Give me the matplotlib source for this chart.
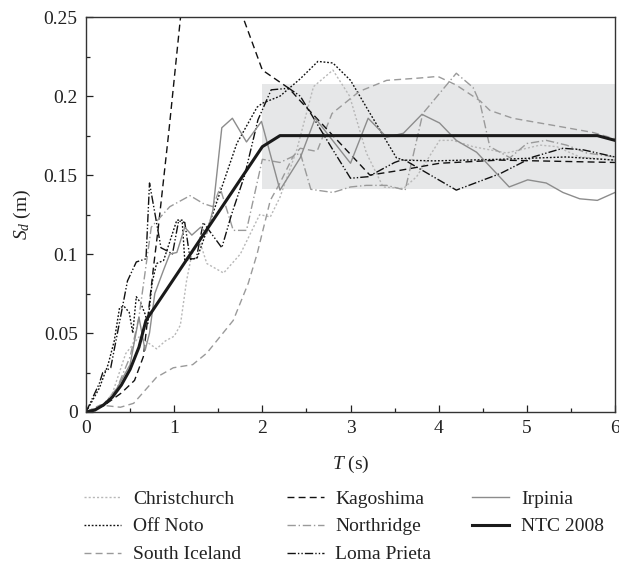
import matplotlib.pyplot as plt
from matplotlib.ticker import MultipleLocator, FuncFormatter

plt.rcParams['font.family'] = ['Liberation Serif', 'DejaVu Serif']
plt.rcParams['mathtext.fontset'] = 'custom'
plt.rcParams['mathtext.it'] = 'Liberation Serif:italic'
plt.rcParams['mathtext.rm'] = 'Liberation Serif'

# Spectral displacement records (T in s, Sd in m)
christchurch_T = [0, 0.2, 0.3, 0.45, 0.6, 0.7, 0.8, 0.9, 1.0, 1.07, 1.14, 1.2, 1.29, 1.37, 1.56, 1.75, 1.97,
                  2.09, 2.2, 2.39, 2.58, 2.8, 2.99, 3.18, 3.37, 3.6, 3.75, 4.01, 4.16, 4.39, 4.77, 5.15, 5.34,
                  5.6, 6.0]
christchurch_Sd = [0, 0.004, 0.012, 0.037, 0.0475, 0.044, 0.04, 0.045, 0.048, 0.055, 0.083, 0.1, 0.108, 0.094,
                   0.088, 0.1, 0.125, 0.1235, 0.136, 0.166, 0.206, 0.2165, 0.2, 0.164, 0.1425, 0.1415, 0.149,
                   0.172, 0.172, 0.168, 0.164, 0.169, 0.168, 0.1615, 0.1595]

offnoto_T = [0, 0.15, 0.25, 0.32, 0.38, 0.43, 0.49, 0.53, 0.57, 0.62, 0.67, 0.7, 0.75, 0.8, 0.88, 1.03, 1.09,
             1.12, 1.26, 1.44, 1.71, 1.94, 2.0, 2.2, 2.43, 2.63, 2.8, 3.0, 3.18, 3.52, 3.6, 3.94, 4.69, 5.45, 6.0]
offnoto_Sd = [0, 0.015, 0.03, 0.045, 0.066, 0.067, 0.063, 0.05, 0.073, 0.069, 0.062, 0.056, 0.082, 0.094, 0.096,
              0.1215, 0.1215, 0.096, 0.0975, 0.126, 0.17, 0.193, 0.1955, 0.2, 0.211, 0.222, 0.221, 0.21, 0.193,
              0.161, 0.1595, 0.159, 0.16, 0.1615, 0.1595]

iceland_T = [0, 0.16, 0.39, 0.54, 0.8, 0.99, 1.21, 1.37, 1.67, 1.84, 1.94, 2.09, 2.2, 2.35, 2.43, 2.62, 2.79,
             3.1, 3.41, 3.79, 3.99, 4.2, 4.47, 4.58, 4.84, 5.3, 5.75, 6.0]
iceland_Sd = [0, 0.0044, 0.003, 0.0055, 0.022, 0.028, 0.03, 0.0373, 0.058, 0.0815, 0.1, 0.134, 0.145, 0.162,
              0.167, 0.165, 0.189, 0.203, 0.21, 0.2115, 0.2125, 0.207, 0.197, 0.191, 0.186, 0.1815, 0.177, 0.173]

kagoshima_T = [0, 0.2, 0.4, 0.55, 0.65, 0.77, 0.82, 0.94, 1.07, 1.2, 1.45, 1.65, 1.78, 2.0, 2.3, 2.43, 2.65,
               3.22, 3.56, 4.01, 4.69, 6.0]
kagoshima_Sd = [0, 0.004, 0.012, 0.02, 0.035, 0.094, 0.117, 0.178, 0.249, 0.31, 0.34, 0.3, 0.25, 0.2165, 0.205,
                0.197, 0.184, 0.15, 0.153, 0.1575, 0.1595, 0.158]

northridge_T = [0, 0.2, 0.35, 0.5, 0.6, 0.74, 0.95, 1.18, 1.33, 1.44, 1.52, 1.67, 1.82, 2.0, 2.2, 2.43, 2.55,
                2.8, 3.0, 3.18, 3.41, 3.62, 3.82, 4.2, 4.39, 4.47, 4.58, 4.81, 5.0, 5.22, 5.45, 5.68, 6.0]
northridge_Sd = [0, 0.005, 0.015, 0.035, 0.06, 0.117, 0.13, 0.137, 0.132, 0.13, 0.142, 0.115, 0.115, 0.16, 0.158,
                 0.164, 0.141, 0.139, 0.1425, 0.1435, 0.1435, 0.1405, 0.189, 0.2145, 0.2055, 0.1955, 0.168, 0.161,
                 0.17, 0.172, 0.169, 0.164, 0.1615]

loma_T = [0, 0.15, 0.19, 0.28, 0.37, 0.47, 0.57, 0.68, 0.72, 0.79, 0.85, 0.92, 0.98, 1.05, 1.12, 1.18, 1.25,
          1.33, 1.54, 1.65, 1.8, 1.95, 2.1, 2.3, 2.43, 2.8, 3.0, 3.2, 3.5, 3.6, 4.2, 4.7, 5.07, 5.41, 5.64, 6.0]
loma_Sd = [0, 0.018, 0.025, 0.028, 0.054, 0.083, 0.095, 0.097, 0.145, 0.123, 0.104, 0.102, 0.1, 0.121, 0.12,
           0.097, 0.097, 0.12, 0.104, 0.125, 0.15, 0.185, 0.204, 0.205, 0.2, 0.166, 0.148, 0.149, 0.158, 0.16,
           0.1405, 0.151, 0.1615, 0.167, 0.166, 0.1615]

irpinia_T = [0, 0.2, 0.3, 0.4, 0.5, 0.6, 0.67, 0.72, 0.78, 0.88, 0.95, 1.03, 1.12, 1.2, 1.3, 1.37, 1.44, 1.54,
             1.66, 1.82, 1.99, 2.2, 2.43, 2.6, 3.0, 3.2, 3.41, 3.6, 3.81, 4.01, 4.2, 4.43, 4.8, 5.01, 5.22, 5.41,
             5.6, 5.8, 6.0]
irpinia_Sd = [0, 0.004, 0.01, 0.02, 0.03, 0.06, 0.039, 0.05, 0.075, 0.09, 0.1, 0.101, 0.117, 0.112, 0.117, 0.113,
              0.128, 0.18, 0.186, 0.171, 0.184, 0.1405, 0.161, 0.186, 0.1575, 0.186, 0.174, 0.1765, 0.1885, 0.183,
              0.172, 0.1645, 0.1425, 0.147, 0.145, 0.139, 0.135, 0.134, 0.139]

ntc_T = [0, 0.1, 0.2, 0.3, 0.4, 0.5, 0.6, 0.68, 2.0, 2.2, 5.8, 6.0]
ntc_Sd = [0, 0.0012, 0.0045, 0.0095, 0.017, 0.027, 0.041, 0.058, 0.168, 0.175, 0.175, 0.172]

# +/- band around the code plateau
band_T = [2.0, 6.0]
band_low, band_high = 0.141, 0.208

FS = 14

fig = plt.figure(figsize=(6.19, 5.73), dpi=100)
ax = fig.add_axes([0.139, 0.281, 0.8545, 0.689])

ax.fill_between(band_T, band_low, band_high, color='#e6e7e8', lw=0, zorder=0)

lines = []
lines += ax.plot(christchurch_T, christchurch_Sd, color='#b8b8b8', lw=1.0, dashes=(1.5, 1.5), label='Christchurch')
lines += ax.plot(offnoto_T, offnoto_Sd, color='#111111', lw=1.0, dashes=(1.3, 1.3), label='Off Noto')
lines += ax.plot(iceland_T, iceland_Sd, color='#9a9a9a', lw=1.0, dashes=(5, 3), label='South Iceland')
lines += ax.plot(kagoshima_T, kagoshima_Sd, color='#111111', lw=1.0, dashes=(5, 3), label='Kagoshima')
lines += ax.plot(northridge_T, northridge_Sd, color='#9a9a9a', lw=1.0, dashes=(6, 2, 1, 2), label='Northridge')
lines += ax.plot(loma_T, loma_Sd, color='#111111', lw=1.0, dashes=(6, 1.5, 1, 1.5, 1, 1.5), label='Loma Prieta')
lines += ax.plot(irpinia_T, irpinia_Sd, color='#8c8c8c', lw=1.0, label='Irpinia')
lines += ax.plot(ntc_T, ntc_Sd, color='#1a1a1a', lw=2.2, label='NTC 2008')

ax.set_xlim(0, 6)
ax.set_ylim(0, 0.25)
ax.xaxis.set_major_locator(MultipleLocator(1))
ax.xaxis.set_minor_locator(MultipleLocator(0.5))
ax.yaxis.set_major_locator(MultipleLocator(0.05))
ax.yaxis.set_minor_locator(MultipleLocator(0.025))
ax.yaxis.set_major_formatter(FuncFormatter(lambda v, p: '0' if v == 0 else ('%g' % round(v, 3))))
ax.tick_params(which='both', direction='in', top=False, right=False, labelsize=FS, colors='#222222')
ax.tick_params(which='major', length=5, width=0.9, pad=6)
ax.tick_params(which='minor', length=3, width=0.9)
for s in ax.spines.values():
    s.set_color('#333333')
    s.set_linewidth(1.0)

ax.set_xlabel('$T$ (s)', fontsize=FS, color='#222222', labelpad=12)
ax.set_ylabel('$S_d$ (m)', fontsize=FS, color='#222222', labelpad=8)

# three legend columns placed separately
col_x = [0.136, 0.463, 0.763]
groups = [lines[0:3], lines[3:6], lines[6:8]]
for x0, grp in zip(col_x, groups):
    fig.legend(handles=grp, loc='upper left', bbox_to_anchor=(x0, 0.145), frameon=False, fontsize=FS,
               handlelength=1.9, handletextpad=0.6, labelspacing=0.53, borderpad=0, borderaxespad=0,
               labelcolor='#222222')

fig.savefig('out.png', dpi=100)
